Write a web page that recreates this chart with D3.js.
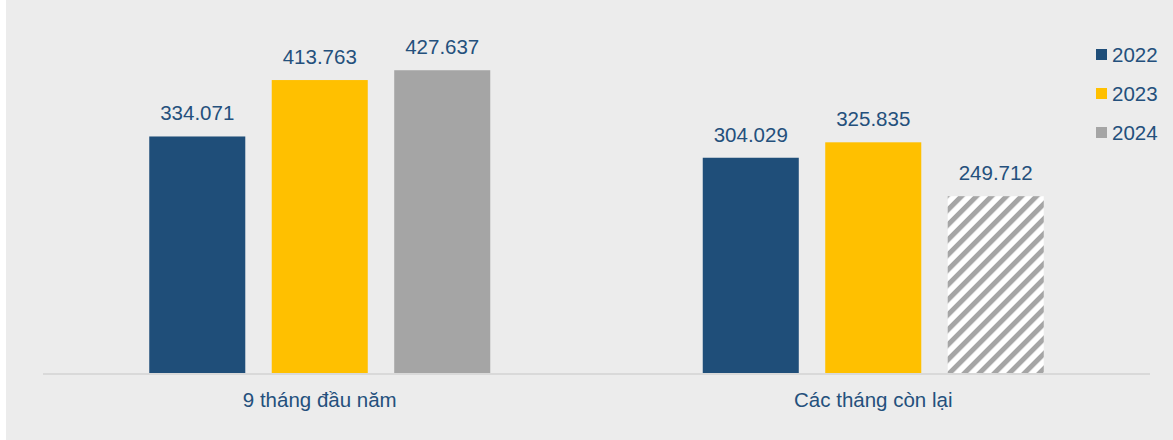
<!DOCTYPE html>
<html>
<head>
<meta charset="utf-8">
<script src="https://cdn.jsdelivr.net/npm/d3@7"></script>
<style>
  html, body { margin: 0; padding: 0; background: #fff; }
  svg { display: block; }
</style>
</head>
<body>
<div id="chart"></div>
<script>
var categories = ["9 tháng đầu năm", "Các tháng còn lại"];
var series = ["2022", "2023", "2024"];
var values2022 = [334.071, 304.029];
var values2023 = [413.763, 325.835];
var values2024 = [427.637, 249.712];
var labels2022 = ["334.071", "304.029"];
var labels2023 = ["413.763", "325.835"];
var labels2024 = ["427.637", "249.712"];

var colors = { "2022": "#1f4e79", "2023": "#ffc000", "2024": "#a5a5a5" };
var textColor = "#24507c";

var width = 1173, height = 440;
var baseY = 373;

var data = [];
categories.forEach(function(c, i) {
    data.push({ cat: c, s: "2022", v: values2022[i], label: labels2022[i], hatch: false });
    data.push({ cat: c, s: "2023", v: values2023[i], label: labels2023[i], hatch: false });
    data.push({ cat: c, s: "2024", v: values2024[i], label: labels2024[i], hatch: i == 1 });
});

var svg = d3.select("#chart")
    .append("svg")
        .attr("width", width)
        .attr("height", height);

svg.append("rect")
    .attr("x", 6)
    .attr("y", 0)
    .attr("width", width - 6)
    .attr("height", height)
    .attr("fill", "#ececec");

var defs = svg.append("defs");
var pat = defs.append("pattern")
    .attr("id", "hatch")
    .attr("patternUnits", "userSpaceOnUse")
    .attr("width", 10.6)
    .attr("height", 10.6)
    .attr("patternTransform", "rotate(45)");
pat.append("rect")
    .attr("width", 10.6)
    .attr("height", 10.6)
    .attr("fill", "#ffffff");
pat.append("rect")
    .attr("width", 5)
    .attr("height", 10.6)
    .attr("fill", "#a5a5a5");

var x0 = d3.scaleBand().domain(categories).range([43, 1150]).padding(0);
var x1 = d3.scaleBand().domain(series).range([-170.5, 170.5]).paddingInner(0.216).paddingOuter(0);
var y = d3.scaleLinear().domain([0, 500]).range([baseY, 19]);

function cx(d) { return x0(d.cat) + x0.bandwidth() / 2; }

svg.append("g").selectAll("rect")
    .data(data)
    .enter()
    .append("rect")
    .attr("x", function(d) { return cx(d) + x1(d.s); })
    .attr("y", function(d) { return y(d.v); })
    .attr("width", x1.bandwidth())
    .attr("height", function(d) { return y(0) - y(d.v); })
    .attr("fill", function(d) { return d.hatch ? "url(#hatch)" : colors[d.s]; });

svg.append("g").selectAll("text")
    .data(data)
    .enter()
    .append("text")
    .text(function(d) { return d.label; })
    .attr("x", function(d) { return cx(d) + x1(d.s) + x1.bandwidth() / 2; })
    .attr("y", function(d) { return y(d.v) - 16; })
    .attr("text-anchor", "middle")
    .attr("font-family", "Arial, 'Liberation Sans', sans-serif")
    .attr("font-size", "20.5px")
    .attr("fill", textColor);

// axis line
svg.append("line")
    .attr("x1", 43)
    .attr("x2", 1150)
    .attr("y1", y(0) + 1)
    .attr("y2", y(0) + 1)
    .attr("stroke", "#d9d9d9")
    .attr("stroke-width", 2);

svg.append("g").selectAll("text")
    .data(categories)
    .enter()
    .append("text")
    .text(function(d) { return d; })
    .attr("x", function(d) { return x0(d) + x0.bandwidth() / 2; })
    .attr("y", 407)
    .attr("text-anchor", "middle")
    .attr("font-family", "Arial, 'Liberation Sans', sans-serif")
    .attr("font-size", "20.5px")
    .attr("fill", textColor);

// legend
var legend = svg.append("g").selectAll("g")
    .data(series)
    .enter()
    .append("g")
    .attr("transform", function(d, i) { return "translate(1096," + (54 + i * 39) + ")"; });
legend.append("rect")
    .attr("x", 0)
    .attr("y", -5)
    .attr("width", 11)
    .attr("height", 11)
    .attr("fill", function(d) { return colors[d]; });
legend.append("text")
    .text(function(d) { return d; })
    .attr("x", 16)
    .attr("y", 7.5)
    .attr("font-family", "Arial, 'Liberation Sans', sans-serif")
    .attr("font-size", "20.5px")
    .attr("fill", textColor);
</script>
</body>
</html>
